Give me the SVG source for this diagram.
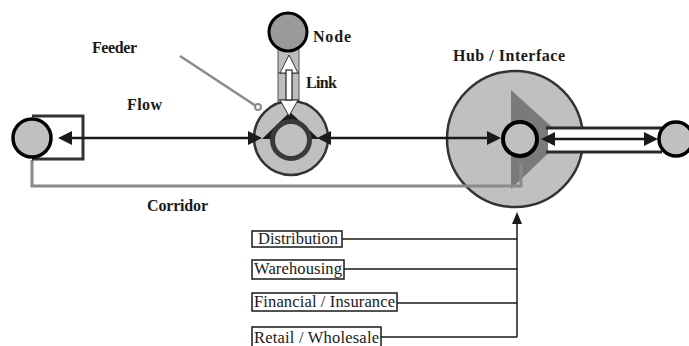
<svg xmlns="http://www.w3.org/2000/svg" width="689" height="346" viewBox="0 0 689 346">
<style>
.lbl{font-family:"Liberation Serif",serif;font-size:16px;font-weight:bold;fill:#1a1a1a}
.box{font-family:"Liberation Serif",serif;font-size:16.5px;fill:#1a1a1a}
.bx{fill:#fff;stroke:#1a1a1a;stroke-width:1.5}
.ln{stroke:#1a1a1a;stroke-width:1.5;fill:none}
.fl{stroke:#1a1a1a;stroke-width:2.5;fill:none}
.ah{fill:#1a1a1a}
</style>
<rect width="689" height="346" fill="#fff"/>
<g id="hub">
  <circle cx="515" cy="139" r="68" fill="#c0c0c0" stroke="#333" stroke-width="2.5"/>
  <polygon points="511,90 564,138 511,189" fill="#7a7a7a"/>
</g>
<g id="connectors">
  <!-- corridor -->
  <path d="M32,160 V186 H521 V163" stroke="#8a8a8a" stroke-width="3" fill="none"/>
  <!-- feeder -->
  <line x1="180" y1="56" x2="256" y2="106" stroke="#8a8a8a" stroke-width="2.5"/>
  <circle cx="258" cy="107" r="3" fill="#fff" stroke="#8a8a8a" stroke-width="2"/>
  <!-- left node box -->
  <path d="M32,116 H83 V159 H32" stroke="#333" stroke-width="3" fill="none"/>
  <!-- flow line left -->
  <line class="fl" x1="70" y1="138" x2="250" y2="138"/>
  <polygon class="ah" points="58,138 72,131 72,145"/>
  <!-- flow line right -->
  <line class="fl" x1="328" y1="138" x2="490" y2="138"/>
  <polygon class="ah" points="501,138 487,131 487,145"/>
  <!-- sector lines -->
  <line class="ln" x1="342" y1="239" x2="517" y2="239"/>
  <line class="ln" x1="344" y1="269" x2="517" y2="269"/>
  <line class="ln" x1="397" y1="303" x2="517" y2="303"/>
  <line class="ln" x1="381" y1="337" x2="517" y2="337"/>
  <line class="ln" x1="517" y1="337" x2="517" y2="222"/>
  <polygon class="ah" points="517,212 512,224 522,224"/>
</g>
<g id="pipe">
  <rect x="548" y="128" width="114" height="24" fill="#fff"/>
  <line x1="546" y1="128" x2="662" y2="128" stroke="#2a2a2a" stroke-width="3"/>
  <line x1="546" y1="152" x2="662" y2="152" stroke="#2a2a2a" stroke-width="3"/>
  <line class="fl" x1="552" y1="139" x2="646" y2="139"/>
  <polygon class="ah" points="541,139 555,132 555,146"/>
  <polygon class="ah" points="658,139 644,132 644,146"/>
</g>
<g id="hub-core">
  <circle cx="520" cy="139" r="17" fill="#c0c0c0" stroke="#000" stroke-width="4"/>
</g>
<g id="right-node">
  <circle cx="676" cy="139" r="17" fill="#c0c0c0" stroke="#000" stroke-width="3.5"/>
</g>
<g id="left-node">
  <circle cx="32" cy="138" r="19" fill="#c0c0c0" stroke="#000" stroke-width="3.5"/>
</g>
<g id="link">
  <rect x="278" y="48" width="21" height="74" fill="#bdbdbd" stroke="#555" stroke-width="1"/>
  <line x1="278" y1="73" x2="299" y2="73" stroke="#333" stroke-width="1"/>
  <line x1="278" y1="100" x2="299" y2="100" stroke="#333" stroke-width="1"/>
</g>
<g id="mid-node">
  <circle cx="291" cy="138" r="37" fill="#c0c0c0" stroke="#333" stroke-width="2.5"/>
  <polygon class="ah" points="262,139 319,139 290,112"/>
  <polygon points="280,100 298,100 289,116" fill="#fff" stroke="#333" stroke-width="1"/>
  <polygon points="280,73 298,73 289,55" fill="#fff" stroke="#333" stroke-width="1"/>
  <rect x="286" y="70" width="6" height="30" fill="#fff" stroke="#222" stroke-width="1.2"/>
  <circle cx="291" cy="140" r="18.5" fill="#c0c0c0" stroke="#3a3a3a" stroke-width="5"/>
  <polygon class="ah" points="262,138 248,131 248,145"/>
  <polygon class="ah" points="317,138 331,131 331,145"/>
</g>
<g id="top-node">
  <circle cx="288" cy="32" r="19" fill="#9a9a9a" stroke="#000" stroke-width="3"/>
</g>
<g id="labels">
  <text class="lbl" x="92" y="53" textLength="45">Feeder</text>
  <text class="lbl" x="127" y="110" textLength="35">Flow</text>
  <text class="lbl" x="313" y="42" textLength="38">Node</text>
  <text class="lbl" x="306" y="88" textLength="31">Link</text>
  <text class="lbl" x="453" y="61" textLength="112">Hub / Interface</text>
  <text class="lbl" x="147" y="211" textLength="61">Corridor</text>
</g>
<g id="sector-distribution">
  <rect class="bx" x="252" y="231" width="90" height="16"/>
  <text class="box" x="258" y="244" textLength="80">Distribution</text>
</g>
<g id="sector-warehousing">
  <rect class="bx" x="252" y="260" width="92" height="19"/>
  <text class="box" x="254" y="274" textLength="88">Warehousing</text>
</g>
<g id="sector-financial">
  <rect class="bx" x="252" y="293" width="145" height="18"/>
  <text class="box" x="254" y="307" textLength="141">Financial / Insurance</text>
</g>
<g id="sector-retail">
  <rect class="bx" x="252" y="327" width="129" height="22"/>
  <text class="box" x="254" y="343" textLength="125">Retail / Wholesale</text>
</g>
</svg>
